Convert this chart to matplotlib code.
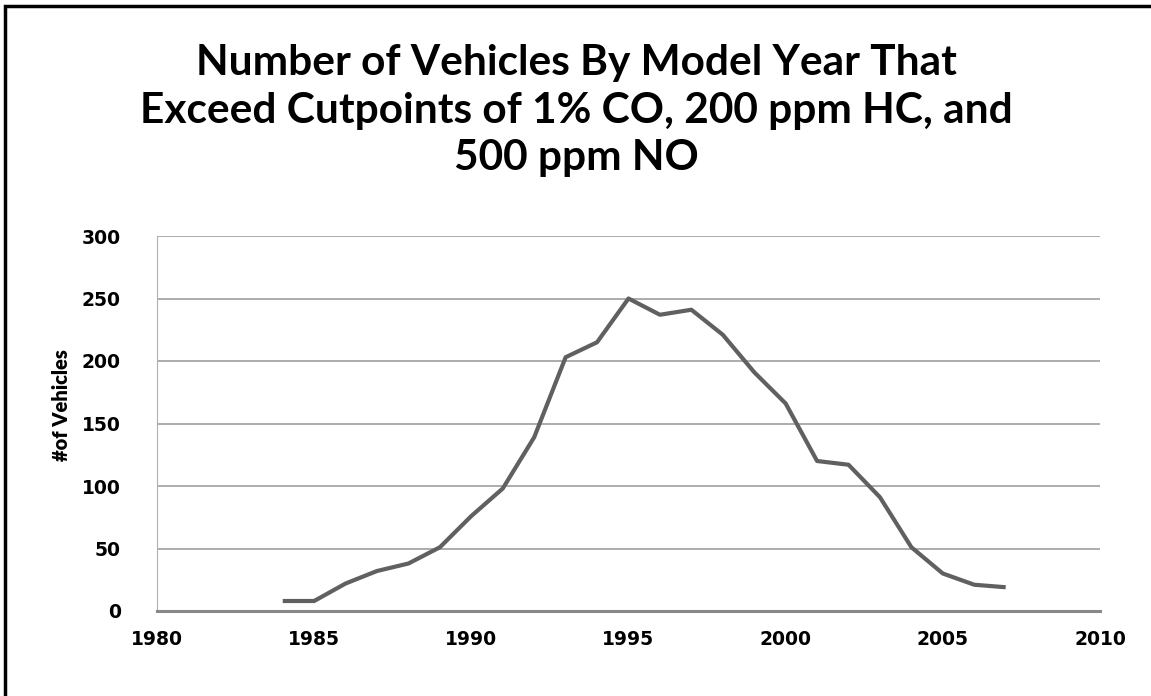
import matplotlib
matplotlib.use("Agg")
import matplotlib.pyplot as plt
from matplotlib.patches import Rectangle

# data
years = [1984, 1985, 1986, 1987, 1988, 1989, 1990, 1991, 1992, 1993, 1994, 1995,
         1996, 1997, 1998, 1999, 2000, 2001, 2002, 2003, 2004, 2005, 2006, 2007]
vehicles = [8, 8, 22, 32, 38, 51, 76, 98, 139, 203, 215, 250,
            237, 241, 221, 191, 166, 120, 117, 91, 51, 30, 21, 19]
x_ticks = [1980, 1985, 1990, 1995, 2000, 2005, 2010]
y_ticks = [0, 50, 100, 150, 200, 250, 300]
title_lines = ["Number of Vehicles By Model Year That",
               "Exceed Cutpoints of 1% CO, 200 ppm HC, and",
               "500 ppm NO"]

W, H = 1151, 696
fig = plt.figure(figsize=(W / 100, H / 100), dpi=100)
ax = fig.add_axes([157 / W, (H - 611) / H, (1100 - 157) / W, (611 - 236) / H])

ax.plot(years, vehicles, color="#606060", linewidth=3.0, solid_capstyle="butt", zorder=3)

ax.set_xlim(1980, 2010)
ax.set_ylim(0, 300)
ax.set_xticks(x_ticks)
ax.set_yticks(y_ticks)
ax.yaxis.grid(True, color="#a6a6a6", linewidth=1.3, zorder=0)
ax.set_axisbelow(True)
for s in ("top", "right"):
    ax.spines[s].set_visible(False)
ax.spines["left"].set_color("#b0b0b0")
ax.spines["left"].set_linewidth(0.8)
ax.spines["bottom"].set_color("#888888")
ax.spines["bottom"].set_linewidth(2.2)
ax.tick_params(length=0, pad=14, labelsize=13.5)
ax.tick_params(axis="y", pad=26)
for lab in ax.get_xticklabels() + ax.get_yticklabels():
    lab.set_fontweight("bold")
    lab.set_family("DejaVu Sans")

fig.text(62 / W, 1 - 405 / H, "#of Vehicles", rotation=90, ha="center", va="center",
         fontsize=14.5, fontweight="heavy", family="Lato")

for i, line in enumerate(title_lines):
    fig.text(576 / W, 1 - (63 + 47.5 * i) / H, line, ha="center", va="center",
             fontsize=30.5, fontweight="bold", family="Lato")

# frame around the chart area
fig.patches.append(Rectangle((5 / W, -0.05), 1.2, 1 - 6 / H + 0.05, transform=fig.transFigure,
                             fill=False, edgecolor="black", linewidth=2.5))

fig.savefig("out.png", dpi=100)
